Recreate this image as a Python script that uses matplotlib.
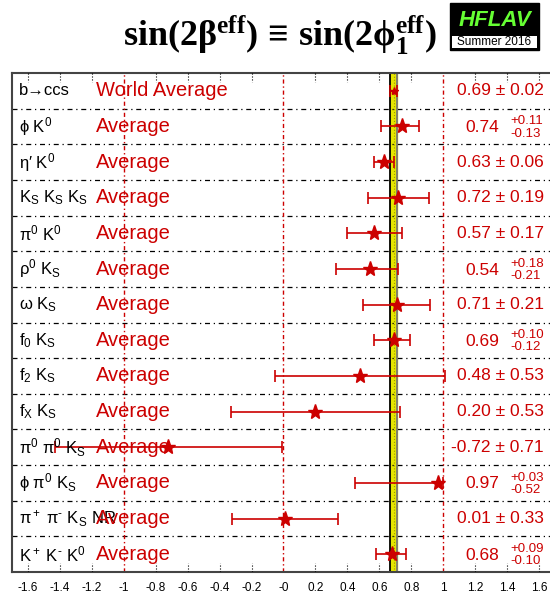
import matplotlib
matplotlib.use("Agg")
import matplotlib.pyplot as plt
from matplotlib.patches import Rectangle
import numpy as np

plt.rcParams['font.family'] = ['Liberation Sans', 'DejaVu Sans']
plt.rcParams['mathtext.fontset'] = 'custom'
plt.rcParams['mathtext.rm'] = 'Liberation Sans'
plt.rcParams['mathtext.it'] = 'Liberation Sans:italic'
plt.rcParams['mathtext.bf'] = 'Liberation Serif:bold'

# data
modes = [r"b→ccs", r"ϕ K$^0$", r"η′ K$^0$", r"K$_\mathregular{S}$ K$_\mathregular{S}$ K$_\mathregular{S}$",
         r"π$^0$ K$^0$", r"ρ$^0$ K$_\mathregular{S}$", r"ω K$_\mathregular{S}$", r"f$_0$ K$_\mathregular{S}$",
         r"f$_2$ K$_\mathregular{S}$", r"f$_\mathregular{X}$ K$_\mathregular{S}$",
         r"π$^0$ π$^0$ K$_\mathregular{S}$", r"ϕ π$^0$ K$_\mathregular{S}$",
         r"π$^+$ π$^‐$ K$_\mathregular{S}$ NR", r"K$^+$ K$^‐$ K$^0$"]
avg_label = ["World Average"] + ["Average"] * 13
central = [0.69, 0.74, 0.63, 0.72, 0.57, 0.54, 0.71, 0.69, 0.48, 0.20, -0.72, 0.97, 0.01, 0.68]
err_hi = [0.02, 0.11, 0.06, 0.19, 0.17, 0.18, 0.21, 0.10, 0.53, 0.53, 0.71, 0.03, 0.33, 0.09]
err_lo = [0.02, 0.13, 0.06, 0.19, 0.17, 0.21, 0.21, 0.12, 0.53, 0.53, 0.71, 0.52, 0.33, 0.10]
world_avg = 0.69
world_err = 0.02

RED = '#cc0000'

fig = plt.figure(figsize=(5.5, 6), dpi=100)
ax = fig.add_axes([12/550, 28/600, 1 - 12/550, 499/600])
n = len(modes)
y = np.arange(n)
ax.set_xlim(-1.7, 1.669)
ax.set_ylim(n - 0.5, -0.5)

# world average band
ax.axvspan(world_avg - world_err, world_avg + world_err, color='#e6e600', zorder=1)
ax.axvline(world_avg - world_err, color='black', lw=1.3, zorder=2)
ax.axvline(world_avg + world_err, color='#777777', lw=1.3, zorder=2)
ax.axvline(world_avg, color='#999900', lw=0.8, ls=':', zorder=2)

# reference lines
for xv in [-1, 0, 1]:
    ax.axvline(xv, color=RED, lw=1.0, ls=(0, (3, 2, 1, 2)), zorder=1.5)

# row separators
for yy in y[:-1] + 0.5:
    ax.axhline(yy, color='black', lw=0.9, ls=(0, (4, 3, 1, 3)), zorder=1)

# error bars and stars
for i in range(n):
    ms = 6 if i == 0 else 11
    ax.errorbar(central[i], y[i], xerr=[[err_lo[i]], [err_hi[i]]], fmt='*', color=RED,
                ms=ms, elinewidth=1.2, capsize=4, capthick=1.2, zorder=4)

# text columns
for i in range(n):
    ax.text(-1.655, y[i], modes[i], fontsize=12, va='center', ha='left', color='black', zorder=5)
    ax.text(-1.175, y[i], avg_label[i], fontsize=14.5, va='center', ha='left', color=RED, zorder=5)
    if abs(err_hi[i] - err_lo[i]) < 1e-9:
        ax.text(1.63, y[i], f"{central[i]:.2f} ± {err_hi[i]:.2f}", fontsize=12.5,
                va='center', ha='right', color=RED, zorder=5)
    else:
        ax.text(1.35, y[i] + 0.03, f"{central[i]:.2f}", fontsize=12.5, va='center', ha='right',
                color=RED, zorder=5)
        ax.text(1.42, y[i] - 0.14, f"+{err_hi[i]:.2f}", fontsize=9.5, va='center', ha='left',
                color=RED, zorder=5)
        ax.text(1.42, y[i] + 0.2, f"-{err_lo[i]:.2f}", fontsize=9.5, va='center', ha='left',
                color=RED, zorder=5)

# ticks
ticks = np.round(np.arange(-1.6, 1.61, 0.2), 1)
ax.set_yticks([])
ax.set_xticks(ticks)
ax.set_xticklabels([f"{t:g}" for t in ticks], fontsize=8.5)
ax.tick_params(axis='x', length=0, pad=7)
tr = ax.get_xaxis_transform()
for t in ticks:
    if t in (-1.0, 0.0, 1.0):
        continue
    ax.plot([t, t], [0, 0.018], color='black', lw=0.8, ls=':', transform=tr, zorder=3)
    ax.plot([t, t], [1, 0.982], color='black', lw=0.8, ls=':', transform=tr, zorder=3)

for s in ['left', 'bottom', 'top']:
    ax.spines[s].set_color('#444444')
    ax.spines[s].set_linewidth(1.5)
ax.spines['right'].set_visible(False)

# title
fig.text(0.508, 0.942, r"$\mathbf{sin(2β^{eff})\ ≡\ sin(2ϕ_1^{eff})}$", fontsize=26,
         ha='center', va='center', color='black')

# logo
fig.patches.append(Rectangle((450/550, 1 - 50/600), 89/550, 47/600, transform=fig.transFigure,
                             facecolor='black', edgecolor='black'))
fig.patches.append(Rectangle((452/550, 1 - 48/600), 85/550, 12/600, transform=fig.transFigure,
                             facecolor='white', edgecolor='none'))
fig.text(495/550, 1 - 20/600, "HFLAV", fontsize=16, fontweight='bold', style='italic',
         color='#66ff33', ha='center', va='center')
fig.text(494/550, 1 - 42/600, "Summer 2016", fontsize=8.5, color='black', ha='center', va='center')

fig.savefig("out.png", dpi=100)
